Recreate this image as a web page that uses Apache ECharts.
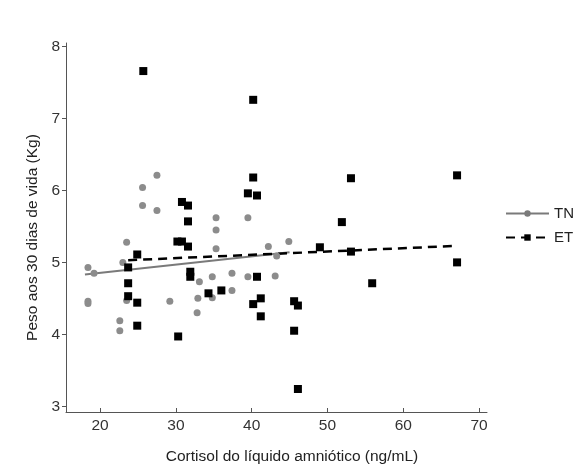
<!DOCTYPE html>
<html>
<head>
<meta charset="utf-8">
<script src="https://cdn.jsdelivr.net/npm/echarts@6/dist/echarts.min.js"></script>
<style>html,body{margin:0;padding:0;background:#fff;}#c{width:578px;height:475px;}</style>
</head>
<body>
<div id="c"></div>
<script>
// Data
var xTicks = [20, 30, 40, 50, 60, 70];
var yTicks = [3, 4, 5, 6, 7, 8];
var seriesNames = ['TN', 'ET'];
var tnPoints = [
  [18.4, 4.93], [19.2, 4.85], [18.4, 4.46], [18.4, 4.43], [22.6, 4.19], [22.6, 4.05],
  [23.0, 5.00], [23.5, 5.28], [23.5, 4.47], [25.6, 6.04], [25.6, 5.79], [27.5, 6.21],
  [27.5, 5.72], [29.2, 4.46], [32.8, 4.30], [32.9, 4.50], [33.1, 4.73], [34.8, 4.80],
  [34.8, 4.51], [35.3, 5.62], [35.3, 5.45], [35.3, 5.19], [37.4, 4.85], [37.4, 4.61],
  [39.5, 5.62], [39.5, 4.80], [42.2, 5.22], [43.1, 4.81], [43.3, 5.09], [44.9, 5.29]
];
var etPoints = [
  [25.7, 7.66], [40.2, 7.26], [40.2, 6.18], [39.5, 5.96], [40.7, 5.93], [30.8, 5.84],
  [31.6, 5.79], [31.6, 5.57], [30.2, 5.29], [30.8, 5.29], [31.6, 5.22], [24.9, 5.11],
  [23.7, 4.93], [31.9, 4.87], [31.9, 4.80], [23.7, 4.71], [23.7, 4.53], [24.9, 4.44],
  [24.9, 4.12], [30.3, 3.97], [34.3, 4.57], [36.0, 4.61], [40.2, 4.42], [40.7, 4.80],
  [41.2, 4.50], [41.2, 4.25], [45.6, 4.46], [46.1, 4.40], [45.6, 4.05], [46.1, 3.24],
  [51.9, 5.56], [49.0, 5.21], [53.1, 5.15], [55.9, 4.71], [67.1, 5.00], [53.1, 6.17],
  [67.1, 6.21]
];
var tnFit = [[18.0, 4.83], [45.0, 5.14]];
var etFit = [[23.7, 5.03], [67.1, 5.23]];

var chart = echarts.init(document.getElementById('c'));
var font = 'Liberation Sans, Arial, sans-serif';
chart.setOption({
  backgroundColor: '#fff',
  animation: false,
  textStyle: { fontFamily: font },
  grid: { left: 66, right: 91, top: 43, bottom: 63 },
  legend: {
    orient: 'vertical',
    left: 500,
    top: 201,
    itemWidth: 43,
    itemHeight: 8,
    itemGap: 9,
    data: seriesNames,
    textStyle: { fontSize: 15, color: '#222', fontFamily: font }
  },
  xAxis: {
    type: 'value',
    min: 15.5,
    max: 71.05,
    name: 'Cortisol do líquido amniótico (ng/mL)',
    nameLocation: 'middle',
    nameGap: 37,
    nameTextStyle: { fontSize: 15.5, color: '#222', padding: [0, 0, 0, 31] },
    axisLine: { lineStyle: { color: '#555', width: 1 } },
    axisTick: { show: true, inside: true, length: 4, customValues: xTicks, lineStyle: { color: '#555' } },
    axisLabel: { customValues: xTicks, fontSize: 15.5, color: '#333', margin: 6 },
    splitLine: { show: false }
  },
  yAxis: {
    type: 'value',
    min: 2.92,
    max: 8.05,
    name: 'Peso aos 30 dias de vida (Kg)',
    nameLocation: 'middle',
    nameGap: 19,
    nameRotate: 90,
    nameTextStyle: { fontSize: 15.5, color: '#222', padding: [0, 20, 0, 0] },
    axisLine: { show: true, lineStyle: { color: '#555', width: 1 } },
    axisTick: { show: true, length: 4, customValues: yTicks, lineStyle: { color: '#555' } },
    axisLabel: { customValues: yTicks, fontSize: 15.5, color: '#333', margin: 6 },
    splitLine: { show: false }
  },
  series: [
    {
      name: seriesNames[0], type: 'line', data: tnFit, z: 2,
      symbol: 'circle', symbolSize: 6, showSymbol: false,
      lineStyle: { color: '#7a7a7a', width: 2 },
      itemStyle: { color: '#7a7a7a' }
    },
    {
      name: seriesNames[1], type: 'line', data: etFit, z: 2,
      symbol: 'rect', symbolSize: 8, showSymbol: false,
      lineStyle: { color: '#000', width: 2.5, type: [9, 6] },
      itemStyle: { color: '#000' }
    },
    {
      name: seriesNames[0], type: 'scatter', data: tnPoints, z: 3,
      symbol: 'circle', symbolSize: 7,
      itemStyle: { color: '#8c8c8c', opacity: 1 }
    },
    {
      name: seriesNames[1], type: 'scatter', data: etPoints, z: 4,
      symbol: 'rect', symbolSize: 8,
      itemStyle: { color: '#000', opacity: 1 }
    }
  ]
});
</script>
</body>
</html>
